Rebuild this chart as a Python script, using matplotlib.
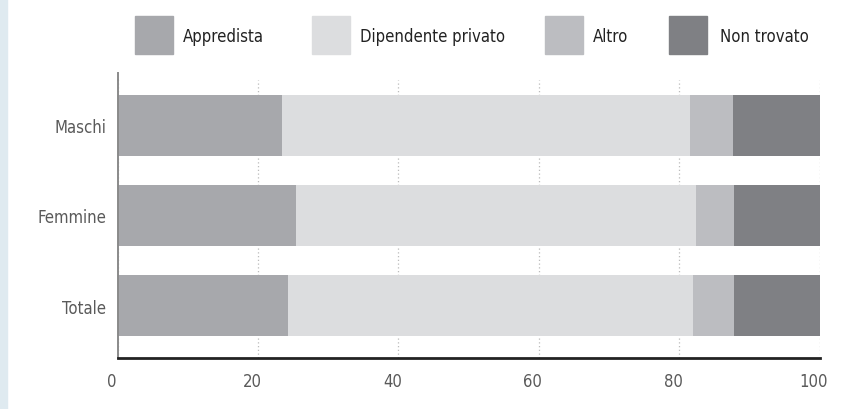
import matplotlib
matplotlib.use("Agg")
import matplotlib.pyplot as plt
import matplotlib.transforms as mtransforms
from matplotlib.patches import Rectangle
from matplotlib import font_manager

# Data (percentages)
groups = ["Maschi", "Femmine", "Totale"]
series = ["Appredista", "Dipendente privato", "Altro", "Non trovato"]
appredista = [23.4, 25.4, 24.3]
dipendente = [58.2, 57.0, 57.7]
altro = [6.1, 5.4, 5.8]
non_trovato = [12.3, 12.2, 12.2]
xticks = [0, 20, 40, 60, 80, 100]

colors = ["#a7a8ac", "#dcdddf", "#bcbdc1", "#7f8084"]
text_color = "#5a5a5a"

# look for a condensed face, the original uses a narrow font
condensed = None
for f in font_manager.fontManager.ttflist:
    st = str(f.stretch).lower()
    if ("narrow" in f.name.lower() or "condensed" in f.name.lower()
            or st in ("condensed", "semi-condensed", "extra-condensed",
                      "ultra-condensed", "100", "200", "300", "400")):
        condensed = f
        break
if condensed is not None:
    plt.rcParams["font.family"] = [condensed.name, "DejaVu Sans"]
    plt.rcParams["font.stretch"] = condensed.stretch
    fs = 12
else:
    plt.rcParams["font.family"] = ["DejaVu Sans"]
    fs = 10.5

fig = plt.figure(figsize=(8.43, 4.10), dpi=100)
W, H = 843, 410

# light blue strip on the left edge
fig.patches.append(Rectangle((0, 0), 7 / W, 1, transform=fig.transFigure,
                             color="#dfeaf0", zorder=0))

ax_left, ax_right, ax_top, ax_bottom = 117.5, 819.5, 81, 359
ax = fig.add_axes([ax_left / W, 1 - ax_bottom / H,
                   (ax_right - ax_left) / W, (ax_bottom - ax_top) / H])

ypos = list(range(len(groups)))
left = [0, 0, 0]
for vals, col in zip([appredista, dipendente, altro, non_trovato], colors):
    ax.barh(ypos, vals, left=left, height=0.674, color=col, zorder=2)
    left = [a + b for a, b in zip(left, vals)]

ax.set_xlim(0, 100)
ax.set_ylim(2.58, -0.5)
ax.set_xticks(xticks)
ax.set_xticklabels([str(t) for t in xticks])
ax.set_yticks(ypos)
ax.set_yticklabels(groups)
ax.tick_params(length=0, labelsize=fs, labelcolor=text_color)
ax.tick_params(axis="x", pad=10)
ax.tick_params(axis="y", pad=8)
offset = mtransforms.ScaledTranslation(-6 / 100, 0, fig.dpi_scale_trans)
for lab in ax.get_xticklabels():
    lab.set_transform(lab.get_transform() + offset)

ax.grid(axis="x", color="#bbbbbb", linestyle=(0, (1, 2)), linewidth=0.9, zorder=1)
ax.set_axisbelow(True)
for s in ["top", "right"]:
    ax.spines[s].set_visible(False)
ax.spines["left"].set_color("#8a8a8a")
ax.spines["left"].set_linewidth(1.4)
ax.spines["bottom"].set_color("#222222")
ax.spines["bottom"].set_linewidth(2)
# left axis line extends a bit above the gridlines
ax.plot([0, 0], [1, 1 + 7 / (ax_bottom - ax_top)], transform=ax.transAxes,
        color="#8a8a8a", linewidth=1.4, clip_on=False)

# legend across the top
sq_x = [135, 312, 545, 669]
txt_x = [183, 360, 593, 720]
for name, col, sx, tx in zip(series, colors, sq_x, txt_x):
    fig.patches.append(Rectangle((sx / W, 1 - 55 / H), 38 / W, 38 / H,
                                 transform=fig.transFigure, color=col))
    fig.text(tx / W, 1 - 37 / H, name, fontsize=fs, color="#222222",
             va="center", ha="left")

fig.savefig("out.png", dpi=100)
